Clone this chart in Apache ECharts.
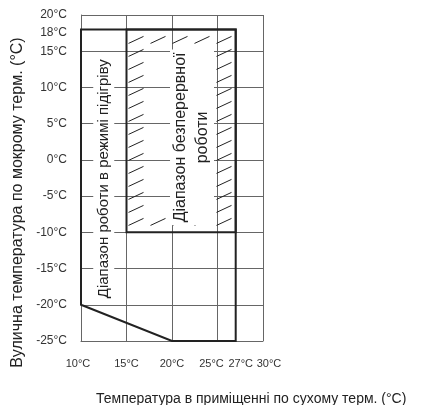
<!DOCTYPE html>
<html>
<head>
<meta charset="utf-8">
<script src="https://cdn.jsdelivr.net/npm/echarts@6/dist/echarts.min.js"></script>
<style>
  html, body { margin: 0; padding: 0; background: #fff; }
  #chart { width: 430px; height: 405px; }
</style>
</head>
<body>
<div id="chart"></div>
<script>
// Axis ticks that carry a label
const xTickLabels = [10, 15, 20, 25, 27, 30];
const yTickLabels = [20, 18, 15, 10, 5, 0, -5, -10, -15, -20, -25];

// Outline of the heating operating range (indoor dry bulb, outdoor wet bulb)
const heatingRangeX = [10, 27, 27, 20, 10];
const heatingRangeY = [18, 18, -25, -25, -20];

// Continuous operation range (hatched rectangle)
const continuousRangeX = [15, 27];
const continuousRangeY = [-10, 18];

// Zone captions and where they sit
const zoneNames = ['Діапазон роботи в режимі підігріву', 'Діапазон безперервної\nроботи'];
const zoneNameX = [12.5, 22.2];
const zoneNameY = [-2.6, 3.1];

const xTitle = 'Температура в приміщенні по сухому терм. (°C)';
const yTitle = 'Вулична температура по мокрому терм. (°C)';

const FONT = '"Liberation Sans", Arial, sans-serif';
const INK = '#222';
const GRID = '#666';
const LABEL = '#333';

// nudges so that crowded tick labels stay apart
const xLabelStyle = { 10: 'a', 25: 'b', 27: 'c', 30: 'd' };

const chart = echarts.init(document.getElementById('chart'), null, { renderer: 'canvas' });

function outlineItem(params, api) {
  const pts = heatingRangeX.map((x, i) => api.coord([x, heatingRangeY[i]]));
  return {
    type: 'polygon',
    shape: { points: pts },
    style: { fill: 'none', stroke: INK, lineWidth: 2 },
    z2: 10
  };
}

function hatchItem(params, api) {
  const tl = api.coord([continuousRangeX[0], continuousRangeY[1]]);
  const br = api.coord([continuousRangeX[1], continuousRangeY[0]]);
  const stepX = 22, stepY = 13, sw = 15, sh = 7;
  const w = br[0] - tl[0], h = br[1] - tl[1];
  const cols = Math.floor((w - 4 - sw) / stepX) + 1;
  const rows = Math.floor((h - 4 - sh) / stepY) + 1;
  const offY = tl[1] + (h - ((rows - 1) * stepY + sh)) / 2;
  const x0 = tl[0] + 2;
  const children = [];
  for (let r = 0; r < rows; r++) {
    for (let c = 0; c < cols; c++) {
      // hatching runs along the inside of the border only
      if (!(r === 0 || r === rows - 1 || c === 0 || c === cols - 1)) continue;
      const x = x0 + c * stepX;
      const y = offY + r * stepY;
      children.push({
        type: 'line',
        shape: { x1: x, y1: y + sh, x2: x + sw, y2: y },
        style: { stroke: INK, lineWidth: 1 }
      });
    }
  }
  children.push({
    type: 'rect',
    shape: { x: tl[0], y: tl[1], width: w, height: h },
    style: { fill: 'none', stroke: INK, lineWidth: 2 },
    z2: 10
  });
  return { type: 'group', children: children };
}

function captionItem(params, api) {
  const i = params.dataIndex;
  const p = api.coord([zoneNameX[i], zoneNameY[i]]);
  const big = i === 1;
  return {
    type: 'text',
    x: p[0],
    y: p[1],
    rotation: Math.PI / 2,
    style: {
      text: zoneNames[i],
      font: (big ? 16 : 15) + 'px ' + FONT,
      fill: INK,
      align: 'center',
      verticalAlign: 'middle',
      lineHeight: big ? 22 : 17,
      backgroundColor: '#fff',
      padding: big ? [0, 3] : [2, 2]
    },
    z2: 5
  };
}

const tickRich = (pad) => ({ fontSize: 11, fontFamily: FONT, color: LABEL, padding: pad });

const option = {
  animation: false,
  backgroundColor: '#fff',
  textStyle: { fontFamily: FONT },
  title: {
    text: xTitle,
    left: 91,
    top: 387,
    textStyle: { fontFamily: FONT, fontSize: 14, fontWeight: 'normal', color: INK }
  },
  graphic: [{
    type: 'text',
    left: 10,
    top: 'middle',
    rotation: Math.PI / 2,
    style: { text: yTitle, font: '16px ' + FONT, fill: INK }
  }],
  grid: { left: 81, top: 15, width: 182, height: 326, containLabel: false },
  xAxis: {
    type: 'value',
    min: 10,
    max: 30,
    interval: 5,
    axisLine: { show: true, onZero: false, lineStyle: { color: GRID, width: 1 } },
    axisTick: { show: false },
    splitLine: { show: true, lineStyle: { color: GRID, width: 1 } },
    axisLabel: {
      customValues: xTickLabels,
      showMinLabel: true,
      showMaxLabel: true,
      hideOverlap: false,
      formatter: v => xLabelStyle[v] ? '{' + xLabelStyle[v] + '|' + v + '°C}' : v + '°C',
      color: LABEL,
      fontSize: 11,
      fontFamily: FONT,
      margin: 17,
      rich: {
        a: tickRich([0, 6, 0, 0]),
        b: tickRich([0, 12, 0, 0]),
        c: tickRich([0, 0, 0, 10]),
        d: tickRich([0, 0, 0, 12])
      }
    }
  },
  yAxis: {
    type: 'value',
    min: -25,
    max: 20,
    interval: 5,
    axisLine: { show: true, onZero: false, lineStyle: { color: GRID, width: 1 } },
    axisTick: { show: false },
    splitLine: { show: true, lineStyle: { color: GRID, width: 1 } },
    axisLabel: {
      customValues: yTickLabels,
      showMinLabel: true,
      showMaxLabel: true,
      hideOverlap: false,
      formatter: v => v === 18 ? '{s|' + v + '°C}' : v + '°C',
      color: LABEL,
      fontSize: 12,
      fontFamily: FONT,
      margin: 14,
      rich: {
        s: { fontSize: 12, fontFamily: FONT, color: LABEL, padding: [7, 0, 0, 0] }
      }
    }
  },
  series: [
    {
      type: 'custom',
      name: 'continuous',
      renderItem: hatchItem,
      data: [[continuousRangeX[0], continuousRangeY[0]]],
      clip: false,
      z: 2
    },
    {
      type: 'custom',
      name: 'captions',
      renderItem: captionItem,
      data: zoneNameX.map((x, i) => [x, zoneNameY[i]]),
      clip: false,
      z: 3
    },
    {
      type: 'custom',
      name: 'heating',
      renderItem: outlineItem,
      data: [[heatingRangeX[0], heatingRangeY[0]]],
      clip: false,
      z: 4
    }
  ]
};

chart.setOption(option);
</script>
</body>
</html>
